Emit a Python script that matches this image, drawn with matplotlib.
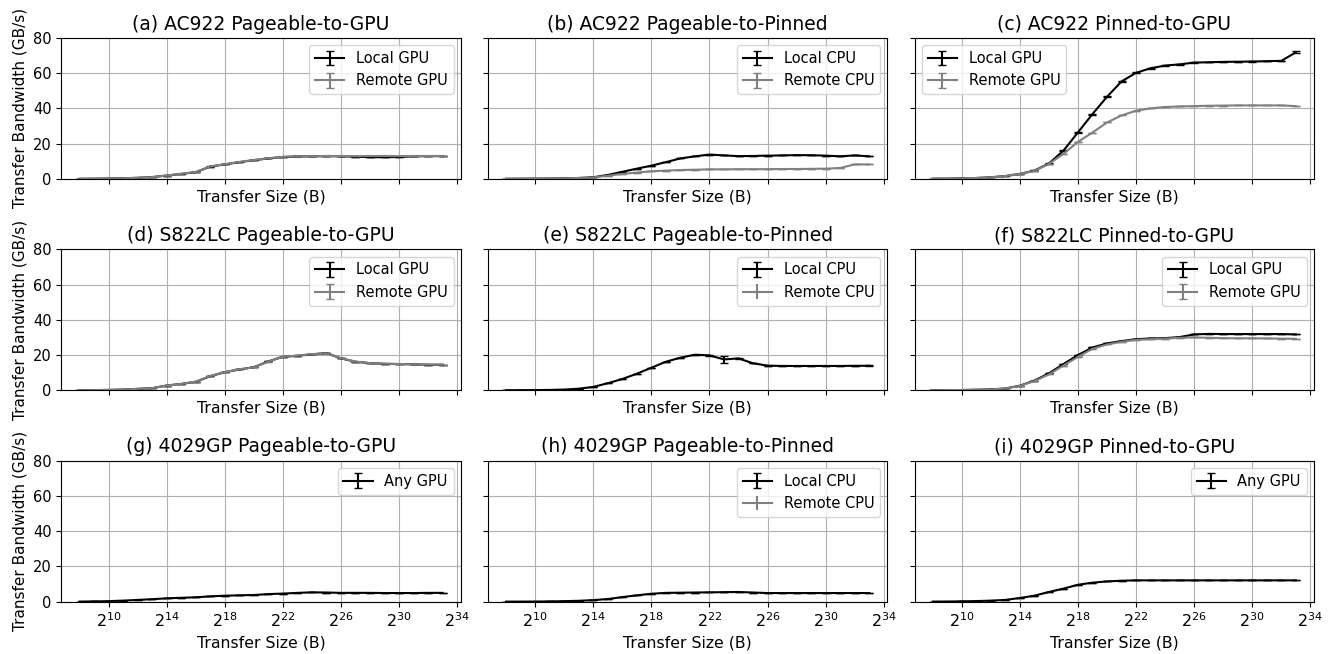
import matplotlib
matplotlib.use("Agg")
import matplotlib.pyplot as plt

# transfer sizes: 2^8 .. 2^33 bytes
exps = list(range(8, 34))
sizes = [2.0 ** e for e in exps]

# ==========================
# bandwidth values (GB/s)
# ==========================

# (a) AC922 Pageable-to-GPU
a_local = [0.05, 0.1, 0.2, 0.35, 0.6, 1.0, 1.9, 2.8, 3.8, 7.0, 8.2, 9.5, 10.6, 11.6, 12.4, 12.7,
           12.8, 12.9, 12.8, 12.6, 12.3, 12.3, 12.4, 12.8, 12.9, 12.9]
a_remote = [0.05, 0.1, 0.2, 0.35, 0.6, 1.0, 1.9, 2.9, 3.9, 7.1, 8.3, 9.6, 10.7, 11.7, 12.5, 12.8,
            12.9, 13.0, 13.0, 12.9, 13.0, 13.0, 12.9, 13.0, 13.0, 13.0]

# (b) AC922 Pageable-to-Pinned
b_local = [0.05, 0.1, 0.15, 0.2, 0.3, 0.5, 0.9, 2.2, 4.0, 5.8, 7.5, 9.5, 11.6, 12.8, 13.8, 13.3,
           12.9, 13.0, 13.2, 13.3, 13.5, 13.4, 13.2, 12.8, 13.3, 12.8]
b_remote = [0.05, 0.1, 0.15, 0.2, 0.3, 0.5, 0.8, 1.8, 2.8, 3.6, 4.3, 4.7, 5.0, 5.2, 5.4, 5.4,
            5.5, 5.5, 5.5, 5.6, 5.6, 5.7, 5.8, 6.2, 8.2, 8.2]

# (c) AC922 Pinned-to-GPU
c_local = [0.1, 0.15, 0.3, 0.5, 0.9, 1.6, 2.8, 4.7, 8.7, 16.0, 26.4, 36.8, 46.6, 55.3, 60.2, 62.8,
           64.3, 65.0, 66.0, 66.2, 66.4, 66.5, 66.6, 66.8, 67.0, 71.8]
c_local_err = [0, 0, 0, 0, 0, 0, 0, 0.1, 0.2, 0.3, 0.3, 0.3, 0.3, 0.3, 0.3, 0.2,
               0.2, 0.2, 0.1, 0.1, 0.1, 0.1, 0.1, 0.1, 0.1, 0.6]
c_remote = [0.1, 0.15, 0.3, 0.5, 0.9, 1.6, 2.8, 4.5, 8.5, 14.2, 21.0, 26.3, 32.0, 36.0, 38.7, 40.0,
            40.8, 41.1, 41.3, 41.5, 41.6, 41.7, 41.7, 41.7, 41.7, 41.3]

# (d) S822LC Pageable-to-GPU
d_local = [0.05, 0.1, 0.2, 0.4, 0.8, 1.2, 2.7, 3.6, 4.8, 8.0, 10.3, 11.8, 13.1, 16.4, 19.0, 19.6,
           20.4, 21.1, 18.1, 16.2, 15.4, 15.0, 14.9, 14.7, 14.5, 14.5]
d_remote = [0.05, 0.1, 0.2, 0.4, 0.8, 1.2, 2.7, 3.6, 4.9, 8.1, 10.3, 11.9, 13.0, 16.3, 19.0, 19.7,
            20.5, 21.0, 18.2, 16.3, 15.4, 15.1, 14.9, 14.7, 14.6, 14.5]

# (e) S822LC Pageable-to-Pinned
e_local = [0.02, 0.05, 0.1, 0.2, 0.4, 0.9, 1.9, 4.0, 6.4, 9.4, 12.8, 16.2, 18.5, 20.2, 19.8, 17.5,
           18.1, 15.3, 14.0, 13.8, 13.8, 13.8, 13.8, 13.8, 13.9, 13.9]
e_local_err = [0, 0, 0, 0, 0, 0, 0, 0, 0, 0, 0, 0, 0, 0, 0.3, 1.8,
               0.3, 0, 0, 0, 0, 0, 0, 0, 0, 0.2]

# (f) S822LC Pinned-to-GPU
f_local = [0.05, 0.1, 0.15, 0.3, 0.5, 1.0, 2.6, 5.5, 9.6, 14.9, 20.0, 24.3, 26.6, 27.9, 29.0, 29.4,
           29.6, 30.2, 31.7, 32.0, 31.9, 31.9, 31.9, 31.9, 31.9, 31.7]
f_remote = [0.05, 0.1, 0.15, 0.3, 0.5, 1.0, 2.5, 5.2, 9.0, 14.0, 19.0, 23.5, 26.0, 27.5, 28.6, 29.0,
            29.3, 29.8, 30.0, 29.8, 29.6, 29.5, 29.5, 29.4, 29.3, 29.2]

# (g) 4029GP Pageable-to-GPU
g_any = [0.05, 0.15, 0.3, 0.6, 1.0, 1.4, 1.9, 2.2, 2.5, 3.0, 3.4, 3.6, 3.8, 4.3, 4.6, 5.0,
         5.3, 5.2, 5.0, 5.0, 5.0, 4.9, 4.9, 4.9, 5.0, 5.0]

# (h) 4029GP Pageable-to-Pinned
h_local = [0.02, 0.05, 0.08, 0.15, 0.3, 0.5, 0.9, 1.5, 2.6, 3.6, 4.5, 5.0, 5.1, 5.2, 5.3, 5.4,
           5.5, 5.2, 4.9, 4.9, 4.9, 4.9, 4.9, 4.9, 4.9, 4.9]

# (i) 4029GP Pinned-to-GPU
i_any = [0.05, 0.1, 0.2, 0.35, 0.6, 1.0, 2.1, 3.4, 5.5, 7.4, 9.6, 10.8, 11.5, 11.9, 12.1, 12.1,
         12.1, 12.1, 12.1, 12.1, 12.1, 12.1, 12.1, 12.1, 12.1, 12.1]

no_err = [0] * len(exps)

titles = [
    "(a) AC922 Pageable-to-GPU", "(b) AC922 Pageable-to-Pinned", "(c) AC922 Pinned-to-GPU",
    "(d) S822LC Pageable-to-GPU", "(e) S822LC Pageable-to-Pinned", "(f) S822LC Pinned-to-GPU",
    "(g) 4029GP Pageable-to-GPU", "(h) 4029GP Pageable-to-Pinned", "(i) 4029GP Pinned-to-GPU",
]

# (label, values, errors, colour) per panel
panels = [
    [("Local GPU", a_local, no_err, "black"), ("Remote GPU", a_remote, no_err, "gray")],
    [("Local CPU", b_local, no_err, "black"), ("Remote CPU", b_remote, no_err, "gray")],
    [("Local GPU", c_local, c_local_err, "black"), ("Remote GPU", c_remote, no_err, "gray")],
    [("Local GPU", d_local, no_err, "black"), ("Remote GPU", d_remote, no_err, "gray")],
    [("Local CPU", e_local, e_local_err, "black"), ("Remote CPU", None, None, "gray")],
    [("Local GPU", f_local, no_err, "black"), ("Remote GPU", f_remote, no_err, "gray")],
    [("Any GPU", g_any, no_err, "black")],
    [("Local CPU", h_local, no_err, "black"), ("Remote CPU", None, None, "gray")],
    [("Any GPU", i_any, no_err, "black")],
]
legend_locs = ["upper right", "upper right", "upper left",
               "upper right", "upper right", "upper right",
               "upper right", "upper right", "upper right"]

plt.rcParams["font.family"] = "DejaVu Sans"
plt.rcParams["font.size"] = 10

fig, axes = plt.subplots(3, 3, sharex=True, sharey=True, figsize=(13.34, 6.54), dpi=100)
fig.subplots_adjust(left=0.046, right=0.985, top=0.942, bottom=0.08, wspace=0.068, hspace=0.5)

xticks = [2.0 ** e for e in range(10, 35, 4)]

for k, ax in enumerate(axes.flat):
    for label, vals, errs, color in panels[k]:
        if vals is None:
            # series with no measurements, only shown in the legend
            ax.errorbar([], [], yerr=[], color=color, capsize=3, linewidth=1.5, label=label)
        else:
            ax.errorbar(sizes, vals, yerr=errs, color=color, capsize=3,
                        linewidth=1.5, elinewidth=1.5, label=label)
    ax.set_xscale("log", base=2)
    ax.set_xticks(xticks)
    ax.minorticks_off()
    ax.set_xlim(2 ** 6.75, 2 ** 34.25)
    ax.set_ylim(0, 80)
    ax.set_yticks([0, 20, 40, 60, 80])
    ax.tick_params(axis="x", labelsize=11.5)
    ax.tick_params(axis="y", labelsize=10.5)
    ax.grid(True)
    ax.set_title(titles[k], fontsize=13.5)
    ax.set_xlabel("Transfer Size (B)", fontsize=11.3)
    if k % 3 == 0:
        ax.set_ylabel("Transfer Bandwidth (GB/s)", fontsize=11)
    ax.legend(loc=legend_locs[k], fontsize=10.5)

plt.savefig("out.png", dpi=100)
plt.close()
